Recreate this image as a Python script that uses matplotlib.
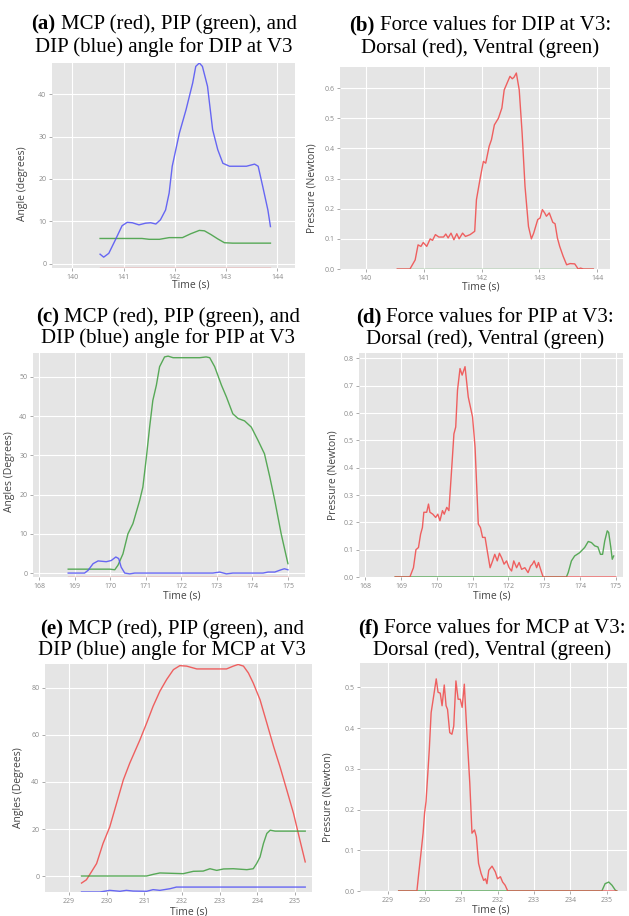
import matplotlib
matplotlib.use("Agg")
import matplotlib.pyplot as plt

# ========================
# GLOBAL SETTINGS
# ========================

plt.rcParams.update({
    "font.family": ["Open Sans", "DejaVu Sans"],
    "axes.facecolor": "#E5E5E5",
    "axes.edgecolor": "none",
    "axes.grid": True,
    "grid.color": "white",
    "grid.linewidth": 0.8,
    "grid.linestyle": "-",
    "xtick.color": "#888888",
    "ytick.color": "#888888",
    "xtick.labelcolor": "#8a8a8a",
    "ytick.labelcolor": "#8a8a8a",
    "xtick.labelsize": 5,
    "ytick.labelsize": 5,
    "xtick.major.size": 2,
    "ytick.major.size": 2,
    "xtick.major.width": 0.5,
    "ytick.major.width": 0.5,
    "xtick.major.pad": 2,
    "ytick.major.pad": 2,
    "axes.labelcolor": "#444444",
    "axes.labelsize": 7.5,
})

RED = "#F04848"
GREEN = "#3E9E3E"
BLUE = "#5050F5"
TITLE_FONT = "Liberation Serif"

# ========================
# DATA
# ========================

# (a) angles, DIP at V3
a_blue_t = [140.54, 140.61, 140.71, 140.84, 140.97, 141.07, 141.17, 141.30, 141.43, 141.53,
            141.63, 141.72, 141.82, 141.89, 141.95, 142.09, 142.22, 142.35, 142.41, 142.48,
            142.54, 142.64, 142.74, 142.84, 142.94, 143.07, 143.40, 143.56, 143.63, 143.72,
            143.82, 143.87]
a_blue_v = [2.3, 1.6, 2.5, 5.7, 9.0, 9.8, 9.7, 9.2, 9.6, 9.7,
            9.4, 10.4, 12.7, 16.7, 23.0, 30.8, 36.3, 42.6, 46.5, 47.3,
            46.5, 41.8, 31.6, 26.9, 23.7, 23.0, 23.0, 23.5, 23.0, 18.2,
            12.7, 8.8]
a_green_t = [140.54, 141.36, 141.50, 141.70, 141.89, 142.15, 142.31, 142.48, 142.58, 142.71,
             142.84, 142.97, 143.13, 143.87]
a_green_v = [6.0, 6.0, 5.8, 5.8, 6.2, 6.2, 7.1, 7.9, 7.8, 6.9,
             5.9, 5.0, 4.9, 4.9]
a_red_t = [140.54, 143.87]
a_red_v = [-0.95, -0.95]

# (b) force, DIP at V3
b_red_t = [140.54, 140.76, 140.85, 140.90, 140.95, 140.99, 141.05, 141.11, 141.15, 141.20,
           141.26, 141.34, 141.38, 141.42, 141.47, 141.52, 141.57, 141.61, 141.67, 141.72,
           141.80, 141.88, 141.91, 141.97, 142.03, 142.07, 142.13, 142.17, 142.22, 142.29,
           142.35, 142.39, 142.49, 142.53, 142.56, 142.60, 142.65, 142.70, 142.75, 142.81,
           142.86, 142.90, 142.97, 143.01, 143.05, 143.09, 143.12, 143.17, 143.23, 143.27,
           143.31, 143.35, 143.41, 143.47, 143.53, 143.61, 143.67, 143.71, 143.76, 143.93]
b_red_v = [0.0, 0.0, 0.03, 0.08, 0.075, 0.088, 0.075, 0.10, 0.095, 0.114,
           0.106, 0.106, 0.116, 0.103, 0.119, 0.097, 0.117, 0.10, 0.119, 0.108,
           0.114, 0.125, 0.23, 0.296, 0.357, 0.351, 0.407, 0.429, 0.478, 0.50,
           0.534, 0.594, 0.639, 0.631, 0.636, 0.65, 0.594, 0.451, 0.274, 0.141,
           0.10, 0.119, 0.164, 0.169, 0.197, 0.186, 0.175, 0.186, 0.155, 0.15,
           0.103, 0.075, 0.042, 0.014, 0.018, 0.017, 0.0, 0.003, 0.0, 0.0]
b_green_t = [140.54, 143.93]
b_green_v = [0.0, 0.0]

# (c) angles, PIP at V3
c_green_t = [168.82, 169.99, 170.13, 170.22, 170.36, 170.50, 170.64, 170.83, 170.92, 171.02,
             171.11, 171.20, 171.30, 171.39, 171.53, 171.63, 171.77, 172.52, 172.70, 172.80,
             172.94, 173.13, 173.27, 173.45, 173.60, 173.78, 173.97, 174.16, 174.34, 174.49,
             174.63, 174.81, 175.00]
c_green_v = [1.0, 1.0, 0.85, 2.0, 4.9, 10.0, 12.6, 18.5, 21.9, 29.6,
             37.2, 44.0, 47.9, 52.6, 55.1, 55.3, 54.9, 54.9, 55.1, 54.9,
             52.6, 47.9, 44.9, 40.6, 39.4, 38.8, 37.2, 33.8, 30.4, 24.5,
             18.5, 10.0, 2.4]
c_blue_t = [168.82, 169.28, 169.38, 169.52, 169.66, 169.89, 170.03, 170.16, 170.24, 170.31,
            170.41, 170.55, 170.69, 172.89, 173.08, 173.27, 173.45, 174.30, 174.44, 174.63,
            174.81, 174.90, 175.00]
c_blue_v = [0.0, 0.0, 0.7, 2.4, 3.1, 2.9, 3.2, 4.1, 3.7, 1.5,
            0.0, -0.2, 0.0, 0.0, 0.26, -0.2, 0.0, 0.0, 0.26, 0.26,
            0.85, 1.1, 0.85]
c_red_t = [168.82, 175.00]
c_red_v = [-1.0, -1.0]

# (d) force, PIP at V3
d_red_t = [168.84, 169.25, 169.35, 169.42, 169.49, 169.55, 169.60, 169.64, 169.72, 169.77,
           169.81, 169.89, 169.97, 170.03, 170.09, 170.16, 170.21, 170.28, 170.34, 170.42,
           170.48, 170.53, 170.58, 170.65, 170.71, 170.79, 170.88, 171.00, 171.07, 171.16,
           171.22, 171.28, 171.35, 171.41, 171.49, 171.56, 171.62, 171.69, 171.75, 171.81,
           171.88, 171.95, 172.02, 172.09, 172.15, 172.23, 172.30, 172.37, 172.46, 172.55,
           172.62, 172.67, 172.72, 172.79, 172.84, 172.90, 172.97, 175.00]
d_red_v = [0.0, 0.0, 0.034, 0.10, 0.108, 0.157, 0.181, 0.237, 0.237, 0.267,
           0.237, 0.23, 0.218, 0.23, 0.206, 0.243, 0.23, 0.255, 0.243, 0.402,
           0.524, 0.549, 0.684, 0.763, 0.739, 0.77, 0.659, 0.586, 0.475, 0.194,
           0.181, 0.145, 0.145, 0.096, 0.034, 0.059, 0.083, 0.059, 0.087, 0.071,
           0.047, 0.059, 0.034, 0.022, 0.059, 0.034, 0.053, 0.028, 0.034, 0.016,
           0.04, 0.047, 0.059, 0.034, 0.053, 0.028, 0.0, 0.0]
d_green_t = [168.84, 173.62, 173.67, 173.76, 173.85, 173.99, 174.13, 174.23, 174.32, 174.41,
             174.50, 174.57, 174.63, 174.69, 174.76, 174.80, 174.86, 174.90, 174.94]
d_green_v = [0.0, 0.0, 0.016, 0.059, 0.077, 0.089, 0.108, 0.13, 0.126, 0.114,
             0.11, 0.083, 0.083, 0.132, 0.169, 0.163, 0.108, 0.065, 0.077]

# (e) angles, MCP at V3
e_red_t = [229.33, 229.46, 229.59, 229.73, 229.90, 230.08, 230.26, 230.44, 230.61, 230.88,
           231.06, 231.23, 231.41, 231.59, 231.77, 231.94, 232.12, 232.39, 233.18, 233.36,
           233.49, 233.63, 233.76, 233.89, 234.07, 234.25, 234.43, 234.60, 234.78, 234.96,
           235.13, 235.27]
e_red_v = [-3.0, -1.6, 1.7, 5.3, 13.8, 20.9, 30.9, 40.9, 48.0, 57.9,
           65.1, 72.2, 78.6, 83.6, 87.8, 89.5, 89.3, 88.1, 88.1, 89.3,
           90.0, 89.3, 86.4, 82.1, 75.0, 65.1, 55.1, 46.5, 36.6, 26.6,
           15.2, 6.0]
e_green_t = [229.33, 231.06, 231.23, 231.41, 232.03, 232.30, 232.56, 232.74, 232.92, 233.10,
             233.36, 233.72, 233.89, 233.98, 234.07, 234.16, 234.25, 234.34, 234.47, 235.27]
e_green_v = [0.0, 0.0, 0.7, 1.3, 1.0, 2.0, 2.1, 3.1, 2.4, 3.0,
             3.1, 2.7, 3.1, 5.3, 8.1, 13.8, 18.1, 19.5, 19.1, 19.1]
e_blue_t = [229.33, 229.82, 230.08, 230.35, 230.52, 230.70, 231.06, 231.23, 231.41, 231.68,
            231.85, 235.27]
e_blue_v = [-6.8, -6.8, -6.1, -6.5, -6.1, -6.4, -6.5, -5.8, -6.1, -5.4,
            -4.7, -4.7]

# (f) force, MCP at V3
f_red_t = [229.29, 229.79, 229.84, 229.90, 229.96, 230.00, 230.04, 230.09, 230.13, 230.18,
           230.25, 230.32, 230.37, 230.43, 230.48, 230.54, 230.59, 230.63, 230.69, 230.75,
           230.80, 230.86, 230.92, 230.98, 231.03, 231.09, 231.16, 231.24, 231.30, 231.37,
           231.42, 231.48, 231.55, 231.62, 231.67, 231.71, 231.76, 231.85, 231.94, 232.00,
           232.08, 232.14, 232.21, 232.28, 235.27]
f_red_v = [0.0, 0.0, 0.043, 0.092, 0.142, 0.191, 0.22, 0.29, 0.348, 0.438,
           0.479, 0.521, 0.488, 0.486, 0.455, 0.506, 0.455, 0.446, 0.389, 0.385,
           0.405, 0.516, 0.471, 0.471, 0.451, 0.508, 0.389, 0.265, 0.142, 0.15,
           0.133, 0.068, 0.043, 0.026, 0.03, 0.018, 0.051, 0.061, 0.047, 0.03,
           0.035, 0.022, 0.014, 0.0, 0.0]
f_green_t = [229.29, 234.86, 234.95, 235.05, 235.14, 235.23, 235.27]
f_green_v = [0.0, 0.0, 0.018, 0.022, 0.014, 0.002, 0.0]


# ========================
# HELPERS
# ========================

def add_title(fig, cx, y1, y2, label, line1, line2, size=15):
    """Two-line serif title, bold panel letter on the first line (pixel coords)."""
    W, H = fig.bbox.width, fig.bbox.height
    t1 = fig.text(0, 1 - y1 / H, label, fontsize=size, family=TITLE_FONT,
                  weight="bold", ha="left", va="baseline")
    t2 = fig.text(0, 1 - y1 / H, line1, fontsize=size, family=TITLE_FONT,
                  ha="left", va="baseline")
    fig.text(cx / W, 1 - y2 / H, line2, fontsize=size, family=TITLE_FONT,
             ha="center", va="baseline")
    r = fig.canvas.get_renderer()
    w1 = t1.get_window_extent(r).width
    w2 = t2.get_window_extent(r).width
    gap = 0.25 * size * fig.dpi / 72
    x0 = cx - (w1 + gap + w2) / 2
    t1.set_x(x0 / W)
    t2.set_x((x0 + w1 + gap) / W)


def make_axes(fig, box, xlim, ylim, xticks, yticks, ylabel, xl_pos, yl_pos, yfmt):
    W, H = fig.bbox.width, fig.bbox.height
    left, top, right, bottom = box
    ax = fig.add_axes([left / W, 1 - bottom / H, (right - left) / W, (bottom - top) / H])
    ax.set_xlim(*xlim)
    ax.set_ylim(*ylim)
    ax.set_xticks(xticks)
    ax.set_yticks(yticks)
    ax.set_yticklabels([yfmt.format(v) for v in yticks])
    ax.set_axisbelow(True)
    ax.set_xlabel("Time (s)", va="center")
    ax.set_ylabel(ylabel, va="center")
    ax.xaxis.set_label_coords(*xl_pos)
    ax.yaxis.set_label_coords(*yl_pos)
    return ax


def draw(ax, series):
    for t, v, c in series:
        ax.plot(t, v, color=c, linewidth=1.0, alpha=0.85, solid_joinstyle="round")


# ========================
# MAIN
# ========================

def main():
    fig = plt.figure(figsize=(6.29, 9.16), dpi=100)

    ax = make_axes(fig, (52, 63, 295, 268), (139.6, 144.35), (-0.95, 47.3),
                   [140, 141, 142, 143, 144], [0, 10, 20, 30, 40],
                   "Angle (degrees)", (0.57, -0.083), (-0.12, 0.41), "{:.0f}")
    draw(ax, [(a_red_t, a_red_v, RED), (a_green_t, a_green_v, GREEN), (a_blue_t, a_blue_v, BLUE)])

    ax = make_axes(fig, (340, 67, 610, 269), (139.55, 144.22), (0.0, 0.67),
                   [140, 141, 142, 143, 144], [0.0, 0.1, 0.2, 0.3, 0.4, 0.5, 0.6],
                   "Pressure (Newton)", (0.52, -0.089), (-0.104, 0.40), "{:.1f}")
    draw(ax, [(b_green_t, b_green_v, GREEN), (b_red_t, b_red_v, RED)])

    ax = make_axes(fig, (33, 353, 305, 577), (167.83, 175.48), (-1.0, 56.1),
                   list(range(168, 176)), [0, 10, 20, 30, 40, 50],
                   "Angles (Degrees)", (0.548, -0.085), (-0.085, 0.47), "{:.0f}")
    draw(ax, [(c_red_t, c_red_v, RED), (c_green_t, c_green_v, GREEN), (c_blue_t, c_blue_v, BLUE)])

    ax = make_axes(fig, (359, 353, 623, 577), (167.83, 175.2), (0.0, 0.82),
                   list(range(168, 176)), [0.0, 0.1, 0.2, 0.3, 0.4, 0.5, 0.6, 0.7, 0.8],
                   "Pressure (Newton)", (0.504, -0.085), (-0.10, 0.455), "{:.1f}")
    draw(ax, [(d_green_t, d_green_v, GREEN), (d_red_t, d_red_v, RED)])

    ax = make_axes(fig, (45, 664, 312, 892), (228.36, 235.45), (-6.8, 90.2),
                   list(range(229, 236)), [0, 20, 40, 60, 80],
                   "Angles (Degrees)", (0.54, -0.088), (-0.10, 0.456), "{:.0f}")
    draw(ax, [(e_red_t, e_red_v, RED), (e_green_t, e_green_v, GREEN), (e_blue_t, e_blue_v, BLUE)])

    ax = make_axes(fig, (360, 663, 627, 891), (228.23, 235.55), (0.0, 0.56),
                   list(range(229, 236)), [0.0, 0.1, 0.2, 0.3, 0.4, 0.5],
                   "Pressure (Newton)", (0.49, -0.083), (-0.12, 0.41), "{:.1f}")
    draw(ax, [(f_green_t, f_green_v, GREEN), (f_red_t, f_red_v, RED)])

    add_title(fig, 164, 29, 52, "(a)", "MCP (red), PIP (green), and", "DIP (blue) angle for DIP at V3")
    add_title(fig, 480, 30, 53, "(b)", "Force values for DIP at V3:", "Dorsal (red), Ventral (green)")
    add_title(fig, 168, 322, 343, "(c)", "MCP (red), PIP (green), and", "DIP (blue) angle for PIP at V3")
    add_title(fig, 485, 322, 344, "(d)", "Force values for PIP at V3:", "Dorsal (red), Ventral (green)")
    add_title(fig, 172, 634, 655, "(e)", "MCP (red), PIP (green), and", "DIP (blue) angle for MCP at V3")
    add_title(fig, 492, 633, 655, "(f)", "Force values for MCP at V3:", "Dorsal (red), Ventral (green)")

    fig.savefig("out.png", dpi=100)


if __name__ == "__main__":
    main()
